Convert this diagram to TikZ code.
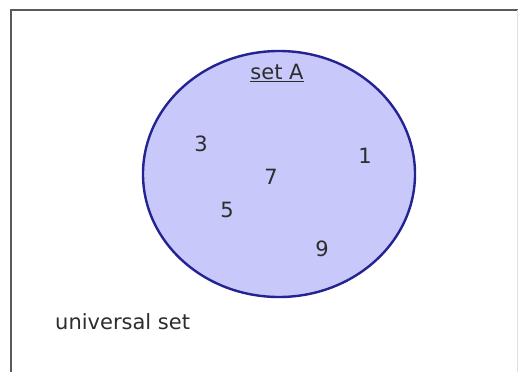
\documentclass[tikz,border=0pt]{standalone}
\usepackage{fontspec}
\usetikzlibrary{shapes.geometric}
\setmainfont{DejaVu Sans}
\definecolor{setfill}{RGB}{200,200,250}
\definecolor{setline}{RGB}{35,35,145}
\definecolor{txt}{RGB}{45,45,45}
\definecolor{frame}{RGB}{90,90,90}
\begin{document}
\begin{tikzpicture}[x=1pt,y=-1pt,
  lbl/.style={text=txt,font=\fontsize{21}{24}\selectfont,inner sep=0pt,anchor=center}]
\useasboundingbox (0,0) rectangle (518,372);
\fill[white] (0,0) rectangle (518,372);
\coordinate (tl) at (11,10);
\coordinate (tr) at (518,10);
\coordinate (bl) at (11,372);
\draw[frame,line width=2.5pt] (tr) -- (tl) -- (bl);
\draw[black!12,line width=1pt] (517,10) -- (517,372);
\node (A) [draw=setline,fill=setfill,line width=2.4pt,ellipse,minimum width=272pt,minimum height=246pt,inner sep=0pt] at (279,174) {};
\node (setA) [lbl] at (277,73) {\underline{set A}};
\node (n3) [lbl] at (201,144) {3};
\node (n1) [lbl] at (365,156) {1};
\node (n7) [lbl] at (271,177) {7};
\node (n5) [lbl] at (227,210) {5};
\node (n9) [lbl] at (322,249) {9};
\node (U) [lbl,anchor=west] at (55,322) {universal set};
\end{tikzpicture}
\end{document}
